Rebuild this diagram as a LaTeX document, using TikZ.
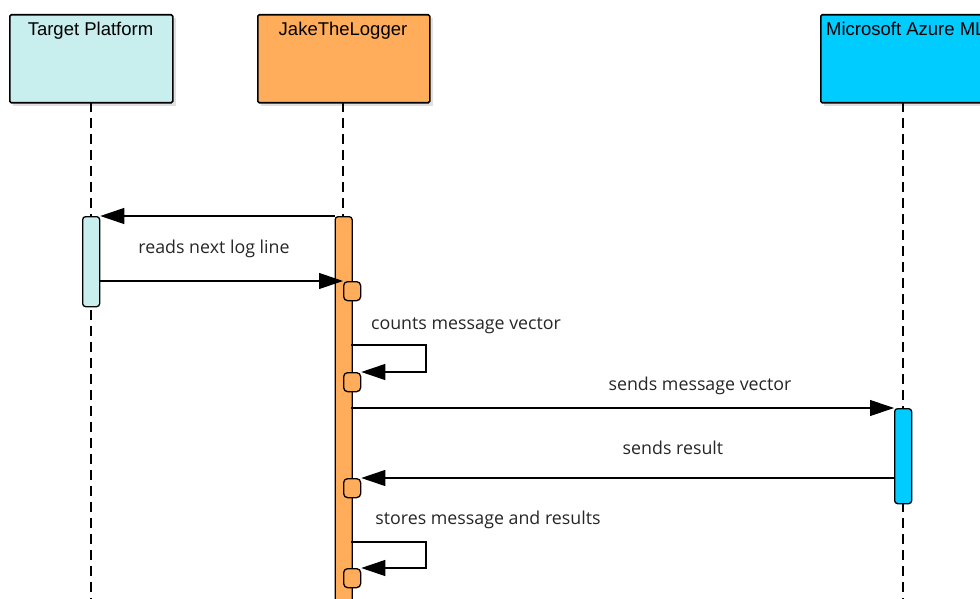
\documentclass[tikz,border=0pt]{standalone}
\usepackage{fontspec}
\setmainfont{Liberation Sans}
\newfontfamily\msgfont{Open Sans}
\usetikzlibrary{arrows.meta,calc}
\definecolor{tpfill}{HTML}{C8EEEE}
\definecolor{jakefill}{HTML}{FFAD5B}
\definecolor{azfill}{HTML}{00CCFF}
\definecolor{shadowgray}{HTML}{E0E0E0}
\tikzset{
  headbox/.style={draw=black, line width=1.6pt, rounded corners=1.5pt, anchor=north west, inner sep=0pt},
  headshadow/.style={fill=shadowgray, draw=none, anchor=north west, inner sep=0pt},
  headtext/.style={font=\fontsize{18.5}{21}\selectfont, inner sep=0pt, anchor=base},
  lifeline/.style={line width=1.1pt, dash pattern=on 10pt off 6pt},
  actbox/.style={draw=black, line width=1.3pt, rounded corners=3pt, anchor=north west, inner sep=0pt, minimum width=17pt},
  smallbox/.style={draw=black, line width=1.3pt, rounded corners=4pt, fill=jakefill, anchor=north west, inner sep=0pt, minimum width=17pt, minimum height=19pt},
  msg/.style={line width=1.1pt, -{Triangle[length=24pt,width=16pt]}},
  msgtext/.style={font=\msgfont\fontsize{17.8}{21}\selectfont, inner sep=0pt, text=black!85},
}
\begin{document}
\begin{tikzpicture}[x=1pt,y=-1pt]
\useasboundingbox (0,0) rectangle (980,599);
\clip (0,0) rectangle (980,599);

% header shadows
\node[headshadow, minimum width=163pt, minimum height=88pt] (tpsh) at (13,18) {};
\node[headshadow, minimum width=172pt, minimum height=88pt] (jksh) at (261,18) {};
\node[headshadow, minimum width=200pt, minimum height=88pt] (azsh) at (824,18) {};

% lifelines
\coordinate (tpend) at (91,605);
\coordinate (jkend) at (343,605);
\coordinate (azend) at (903,605);
\draw[lifeline] (91,102) -- (tpend);
\draw[lifeline] (343,102) -- (jkend);
\draw[lifeline] (903,102) -- (azend);

% header boxes
\node[headbox, fill=tpfill, minimum width=163pt, minimum height=88pt] (tp) at (9,14) {};
\node[headbox, fill=jakefill, minimum width=172pt, minimum height=88pt] (jk) at (257,14) {};
\node[headbox, fill=azfill, minimum width=200pt, minimum height=88pt] (az) at (820,14) {};
\node[headtext] (tpt) at (90.5,36) {Target Platform};
\node[headtext] (jkt) at (343,36) {JakeTheLogger};
\node[headtext, anchor=base west] (azt) at (826,36) {Microsoft Azure ML};

% activations
\node[actbox, fill=tpfill, minimum height=90pt] (tact) at (82,216) {};
\node[actbox, fill=jakefill, minimum height=420pt] (jact) at (334.5,216) {};
\node[actbox, fill=azfill, minimum height=95pt] (aact) at (894,408) {};

% small execution boxes
\node[smallbox] (sb1) at (343,281) {};
\node[smallbox] (sb2) at (343,372) {};
\node[smallbox] (sb3) at (343,478) {};
\node[smallbox] (sb4) at (343,568) {};

% messages
\draw[msg] (jact.north west) -- (tact.north east);
\draw[msg] (tact.east |- sb1.north west) -- (sb1.north west);
\node[msgtext] (m1) at (214,249) {reads next log line};

\coordinate (l1s) at (351,345);
\draw[msg] (l1s) -- ++(75,0) |- (sb2.north east);
\node[msgtext] (m2) at (466,326) {counts message vector};

\coordinate (l2s) at (351,408);
\draw[msg] (l2s) -- (aact.north west);
\node[msgtext] (m3) at (700,386) {sends message vector};

\draw[msg] (aact.west |- sb3.north east) -- (sb3.north east);
\node[msgtext] (m4) at (673,448) {sends result};

\coordinate (l3s) at (351,542);
\draw[msg] (l3s) -- ++(75,0) |- (sb4.north east);
\node[msgtext] (m5) at (488,520) {stores message and results};
\end{tikzpicture}
\end{document}
